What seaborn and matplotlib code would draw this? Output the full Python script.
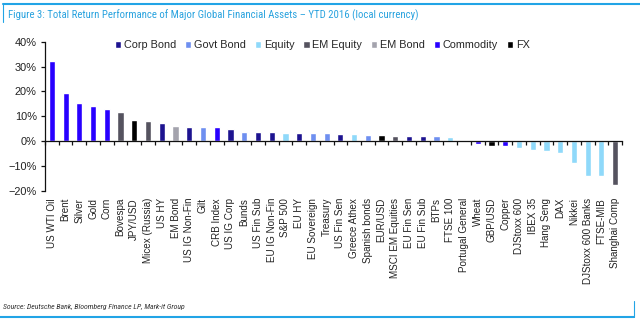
import matplotlib
matplotlib.use("Agg")
import matplotlib.pyplot as plt
from matplotlib.lines import Line2D
from matplotlib.ticker import FixedLocator, PercentFormatter
import seaborn as sns
import pandas as pd

# Asset names, YTD 2016 total return (%), and asset class
assets = [
    "US WTI Oil", "Brent", "Silver", "Gold", "Corn", "Bovespa", "JPY/USD",
    "Micex (Russia)", "US HY", "EM Bond", "US IG Non-Fin", "Gilt", "CRB Index",
    "US IG Corp", "Bunds", "US Fin Sub", "EU IG Non-Fin", "S&P 500", "EU HY",
    "EU Sovereign", "Treasury", "US Fin Sen", "Greece Athex", "Spanish bonds",
    "EUR/USD", "MSCI EM Equities", "EU Fin Sen", "EU Fin Sub", "BTPs",
    "FTSE 100", "Portugal General", "Wheat", "GBP/USD", "Copper",
    "DJStoxx 600", "IBEX 35", "Hang Seng", "DAX", "Nikkei",
    "DJStoxx 600 Banks", "FTSE-MIB", "Shanghai Comp",
]
returns = [
    32.4, 19.3, 15.2, 14.3, 12.8, 11.7, 8.5,
    8.1, 7.2, 5.9, 5.8, 5.6, 5.6,
    4.7, 3.8, 3.7, 3.7, 3.4, 3.3,
    3.2, 3.1, 2.9, 2.8, 2.6,
    2.3, 2.2, 2.1, 2.0, 1.9,
    1.6, 0.0, -1.3, -2.0, -2.2,
    -2.8, -3.5, -4.0, -4.7, -8.9,
    -14.0, -14.0, -17.7,
]
asset_class = [
    "Commodity", "Commodity", "Commodity", "Commodity", "Commodity", "EM Equity", "FX",
    "EM Equity", "Corp Bond", "EM Bond", "Corp Bond", "Govt Bond", "Commodity",
    "Corp Bond", "Govt Bond", "Corp Bond", "Corp Bond", "Equity", "Corp Bond",
    "Govt Bond", "Govt Bond", "Corp Bond", "Equity", "Govt Bond",
    "FX", "EM Equity", "Corp Bond", "Corp Bond", "Govt Bond",
    "Equity", "Equity", "Commodity", "FX", "Commodity",
    "Equity", "Equity", "Equity", "Equity", "Equity",
    "Equity", "Equity", "EM Equity",
]
classes = ["Corp Bond", "Govt Bond", "Equity", "EM Equity", "EM Bond", "Commodity", "FX"]
class_colors = ["#1d1390", "#6e8ff0", "#8fd9fa", "#55535f", "#a4a3ad", "#2800ff", "#000000"]
y_ticks = [-20, -10, 0, 10, 20, 30, 40]

df = pd.DataFrame({"asset": assets, "ret": returns, "cls": asset_class})

sns.set_style("white")
plt.rcParams["font.family"] = ["Liberation Sans", "DejaVu Sans"]
narrow = ["Roboto Condensed", "Archivo Narrow", "Liberation Sans", "DejaVu Sans"]

fig = plt.figure(figsize=(6.4, 3.23), dpi=100)
ax = fig.add_axes([0.0703, 0.4096, 0.9016, 0.4613])

sns.barplot(
    data=df, x="asset", y="ret", hue="cls", hue_order=classes,
    palette=dict(zip(classes, class_colors)), dodge=False, width=0.45,
    order=assets, ax=ax, saturation=1,
)

ax.set_xlim(-0.5, len(assets) - 0.5)
ax.set_ylim(-20, 40)
ax.set_xlabel("")
ax.set_ylabel("")

# y axis
ax.yaxis.set_major_locator(FixedLocator(y_ticks))
ax.yaxis.set_major_formatter(PercentFormatter(decimals=0))
ax.tick_params(axis="y", which="major", direction="out", length=3, width=0.9,
               color="#111111", labelsize=7.9, labelcolor="#222222", pad=3, left=True)

# x axis sits on the zero line, with ticks between categories
for s in ["top", "right"]:
    ax.spines[s].set_visible(False)
ax.spines["left"].set_color("#111111")
ax.spines["left"].set_linewidth(0.9)
ax.spines["bottom"].set_position(("data", 0))
ax.spines["bottom"].set_color("#111111")
ax.spines["bottom"].set_linewidth(0.9)
ax.set_xticks(range(len(assets)))
ax.set_xticklabels(assets, rotation=90, fontsize=7.1, color="#222222")
ax.set_xticks([i - 0.5 for i in range(len(assets) + 1)], minor=True)
ax.tick_params(axis="x", which="major", length=0, pad=41)
ax.tick_params(axis="x", which="minor", direction="out", length=3, width=0.9,
               color="#111111", bottom=True)
ax.grid(False)

handles, labels = ax.get_legend_handles_labels()
ax.legend(handles, labels, ncol=7, loc="center left", bbox_to_anchor=(0.121, 0.978),
          frameon=False, fontsize=7.8, handlelength=0.6, handleheight=0.6,
          handletextpad=0.25, columnspacing=0.8, borderaxespad=0, borderpad=0)

# frame and captions
blue = "#22a4e6"
fig.add_artist(Line2D([3 / 640, 1], [1 - 4 / 323, 1 - 4 / 323], color=blue, lw=1.5))
fig.add_artist(Line2D([3 / 640, 3 / 640], [1 - 4 / 323, 1 - 22 / 323], color=blue, lw=0.8))
fig.add_artist(Line2D([0, 634 / 640], [1 - 317 / 323, 1 - 317 / 323], color=blue, lw=1.5))
fig.add_artist(Line2D([634 / 640, 634 / 640], [1 - 317 / 323, 1 - 301 / 323], color=blue, lw=0.8))

fig.text(8 / 640, 1 - 15 / 323,
         "Figure 3: Total Return Performance of Major Global Financial Assets \u2013 YTD 2016 (local currency)",
         color="#2aa3df", fontsize=7.75, va="center", ha="left", family=narrow)
fig.text(3 / 640, 1 - 307 / 323,
         "Source: Deutsche Bank, Bloomberg Finance LP, Mark-it Group",
         color="#333333", fontsize=5.6, style="italic", va="center", ha="left", family=narrow)

fig.savefig("out.png", dpi=100)
